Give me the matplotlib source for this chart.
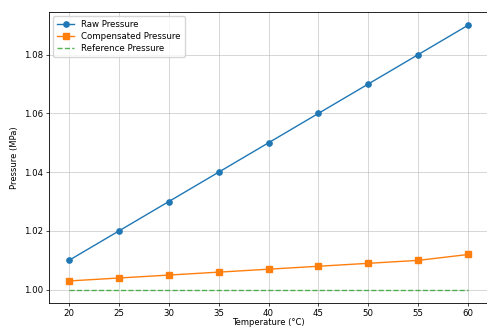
import matplotlib

matplotlib.use("Agg")
import matplotlib.pyplot as plt

temps = [20, 25, 30, 35, 40, 45, 50, 55, 60]
raw_pressure = [1.01, 1.02, 1.03, 1.04, 1.05, 1.06, 1.07, 1.08, 1.09]
compensated = [1.003, 1.004, 1.005, 1.006, 1.007, 1.008, 1.009, 1.010, 1.012]
reference = [1.00] * len(temps)

fig = plt.figure(figsize=(4.87, 3.27), dpi=100)
ax = fig.add_axes([49 / 487, 24 / 327, 439 / 487, 291 / 327])

ax.plot(temps, raw_pressure, marker="o", color="#1f77b4", lw=1.0, ms=3.8, label="Raw Pressure")
ax.plot(temps, compensated, marker="s", color="#ff7f0e", lw=1.0, ms=3.8, label="Compensated Pressure")
ax.plot(temps, reference, "--", color="#2ca02c", lw=1.0, alpha=0.8, label="Reference Pressure")

ax.set_xticks(temps)
ax.set_yticks([1.00, 1.02, 1.04, 1.06, 1.08])
ax.tick_params(labelsize=6.2, width=0.5, length=2.5, pad=2)
ax.set_xlabel("Temperature (°C)", fontsize=6)
ax.xaxis.set_label_coords(0.5, -0.05)
ax.set_ylabel("Pressure (MPa)", fontsize=6, labelpad=3)
ax.grid(True, lw=0.6, alpha=0.6)
for s in ax.spines.values():
    s.set_linewidth(0.6)
ax.legend(loc="upper left", fontsize=6.2, frameon=True, borderpad=0.45, labelspacing=0.35, handlelength=2.0)

fig.savefig("out.png", dpi=100)
